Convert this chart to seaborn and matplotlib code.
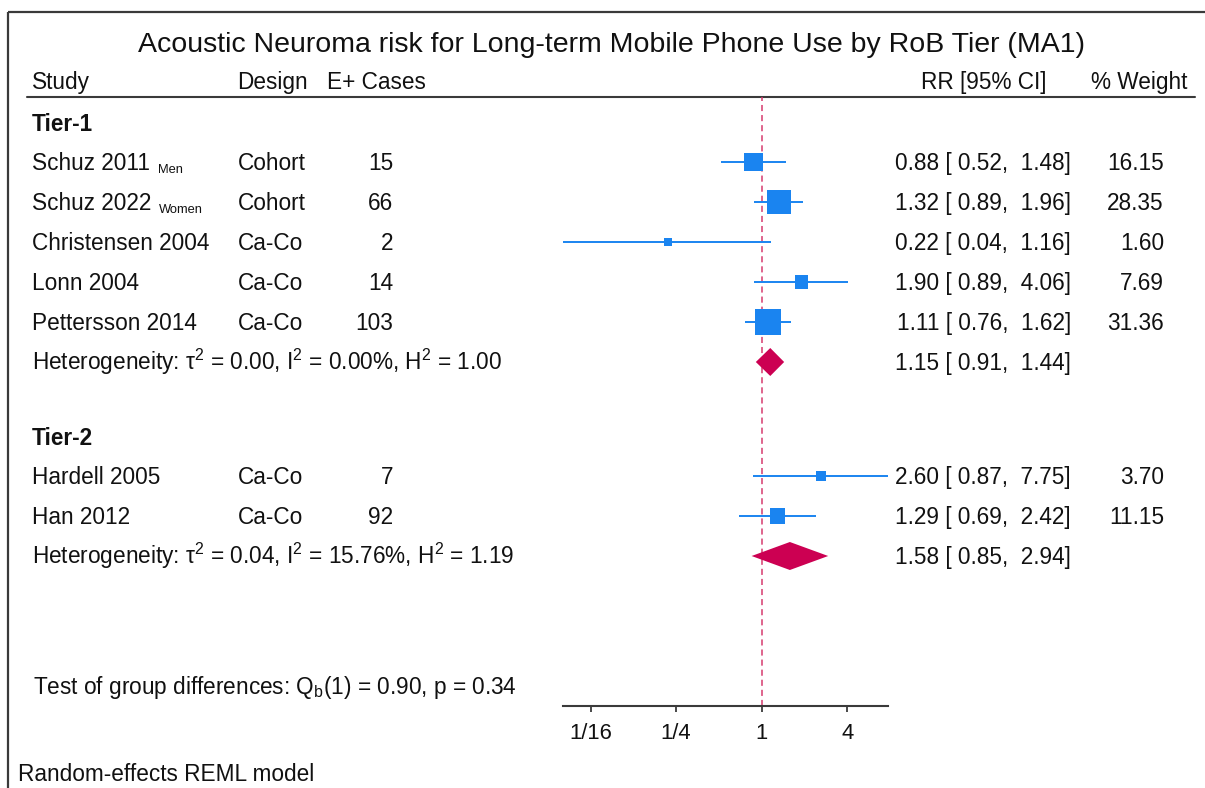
# Forest plot: acoustic neuroma risk by RoB tier (MA1)
import numpy as np
import pandas as pd
import matplotlib.pyplot as plt
import seaborn as sns

# ---- data ----
tiers = ["Tier-1", "Tier-2"]
studies = ["Schuz 2011", "Schuz 2022", "Christensen 2004", "Lonn 2004",
           "Pettersson 2014", "Hardell 2005", "Han 2012"]
subgroup = ["Men", "Women", "", "", "", "", ""]
study_tier = ["Tier-1", "Tier-1", "Tier-1", "Tier-1", "Tier-1", "Tier-2", "Tier-2"]
design = ["Cohort", "Cohort", "Ca-Co", "Ca-Co", "Ca-Co", "Ca-Co", "Ca-Co"]
cases = [15, 66, 2, 14, 103, 7, 92]
rr = [0.88, 1.32, 0.22, 1.90, 1.11, 2.60, 1.29]
ci_low = [0.52, 0.89, 0.04, 0.89, 0.76, 0.87, 0.69]
ci_high = [1.48, 1.96, 1.16, 4.06, 1.62, 7.75, 2.42]
weight = [16.15, 28.35, 1.60, 7.69, 31.36, 3.70, 11.15]

pooled_rr = [1.15, 1.58]
pooled_low = [0.91, 0.85]
pooled_high = [1.44, 2.94]
tau2 = [0.00, 0.04]
i2 = [0.00, 15.76]
h2 = [1.00, 1.19]
qb, qb_df, qb_p = 0.90, 1, 0.34

tick_vals = [1 / 16, 1 / 4, 1, 4]
tick_labels = ["1/16", "1/4", "1", "4"]

# ---- styling ----
sns.set_theme(style="white")
plt.rcParams["font.family"] = ["Liberation Sans", "DejaVu Sans"]
plt.rcParams["mathtext.fontset"] = "custom"
plt.rcParams["mathtext.rm"] = "Liberation Sans"
plt.rcParams["mathtext.default"] = "regular"

BLUE = "#1a84f0"
CRIMSON = "#cc0052"
REFLINE = "#d63a6e"
DARK = "#3a3a3a"
FS = 16.3

W, H = 1205, 788
fig = plt.figure(figsize=(W / 100, H / 100), dpi=100)

# background axes in pixel units, used for text and frame
bg = fig.add_axes([0, 0, 1, 1])
bg.set_xlim(0, W)
bg.set_ylim(H, 0)
bg.axis("off")

# row layout (pixels from top)
df = pd.DataFrame({"study": studies, "sub": subgroup, "tier": study_tier,
                   "design": design, "cases": cases, "rr": rr,
                   "lo": ci_low, "hi": ci_high, "weight": weight})
row_y, tier_y, het_y = [], {}, {}
y = 123
for t in tiers:
    tier_y[t] = y
    y += 39
    for _ in range((df["tier"] == t).sum()):
        row_y.append(y)
        y += 40
    het_y[t] = y
    y += 75
df["y"] = row_y

# forest axes: spans from header rule to x axis
top_px, axis_px = 97, 706
left_px, right_px = 563, 888
ax = fig.add_axes([left_px / W, 1 - axis_px / H, (right_px - left_px) / W,
                   (axis_px - top_px) / H])
ax.set_facecolor("none")
ax.set_xscale("log", base=2)
ax.set_xlim(min(ci_low), max(ci_high))
ax.set_ylim(axis_px, top_px)

ax.axvline(1, color=REFLINE, lw=1.1, ls=(0, (4, 2.6)), zorder=1)
ax.hlines(df["y"], df["lo"], df["hi"], color=BLUE, lw=1.4, zorder=2)
sns.scatterplot(data=df, x="rr", y="y", size="weight", sizes=(32, 330),
                marker="s", color=BLUE, linewidth=0, legend=False, ax=ax,
                zorder=3)
for i, t in enumerate(tiers):
    yy = het_y[t]
    ax.fill([pooled_low[i], pooled_rr[i], pooled_high[i], pooled_rr[i]],
            [yy, yy - 14, yy, yy + 14], color=CRIMSON, lw=0, zorder=3)

for s in ["top", "left", "right"]:
    ax.spines[s].set_visible(False)
ax.spines["bottom"].set_color(DARK)
ax.spines["bottom"].set_linewidth(1.5)
ax.set_xticks(tick_vals)
ax.set_xticklabels(tick_labels)
ax.minorticks_off()
ax.set_yticks([])
ax.set_xlabel("")
ax.set_ylabel("")
ax.tick_params(axis="x", bottom=True, length=4.5, width=1.3, color=DARK,
               labelsize=15.8, pad=8, labelcolor="#111111")

# ---- frame and header ----
bg.plot([8, W], [12, 12], color=DARK, lw=1.6, solid_capstyle="butt")
bg.plot([8, 8], [12, H], color=DARK, lw=1.6, solid_capstyle="butt")
bg.plot([27, 1195], [97, 97], color=DARK, lw=1.5)

txt = dict(color="#111111", fontsize=FS, va="baseline")
bg.text(612, 42 + 10, "Acoustic Neuroma risk for Long-term Mobile Phone Use by RoB Tier (MA1)",
        ha="center", color="#111111", fontsize=20.5, va="baseline")
hy = 81 + 8
bg.text(32, hy, "Study", ha="left", **txt)
bg.text(237, hy, "Design", ha="left", **txt)
bg.text(327, hy, "E+ Cases", ha="left", **txt)
bg.text(984, hy, "RR [95% CI]", ha="center", **txt)
bg.text(1139, hy, "% Weight", ha="center", **txt)

for t in tiers:
    bg.text(32, tier_y[t] + 8, t, ha="left", fontweight="bold", **txt)

for _, r in df.iterrows():
    by = r["y"] + 8
    name = bg.text(32, by, r["study"], ha="left", **txt)
    if r["sub"]:
        bg.annotate(r["sub"], xy=(1, 0), xycoords=name, xytext=(8, 2),
                    textcoords="offset pixels", fontsize=9.3, color="#111111",
                    va="baseline", ha="left")
    bg.text(238, by, r["design"], ha="left", **txt)
    bg.text(393, by, str(r["cases"]), ha="right", **txt)
    bg.text(1071, by, f"{r['rr']:.2f} [{r['lo']:5.2f}, {r['hi']:5.2f}]", ha="right", **txt)
    bg.text(1164, by, f"{r['weight']:.2f}", ha="right", **txt)

for i, t in enumerate(tiers):
    by = het_y[t] + 8
    bg.text(32, by, f"Heterogeneity: τ$^2$ = {tau2[i]:.2f}, I$^2$ = {i2[i]:.2f}%, "
            f"H$^2$ = {h2[i]:.2f}", ha="left", **txt)
    bg.text(1071, by, f"{pooled_rr[i]:.2f} [{pooled_low[i]:5.2f}, {pooled_high[i]:5.2f}]",
            ha="right", **txt)

bg.text(33, 686 + 8, f"Test of group differences: Q$_b$({qb_df}) = {qb:.2f}, p = {qb_p:.2f}",
        ha="left", **txt)
bg.text(18, 773 + 8, "Random-effects REML model", ha="left", **txt)

fig.savefig("out.png", dpi=100)
plt.close(fig)
